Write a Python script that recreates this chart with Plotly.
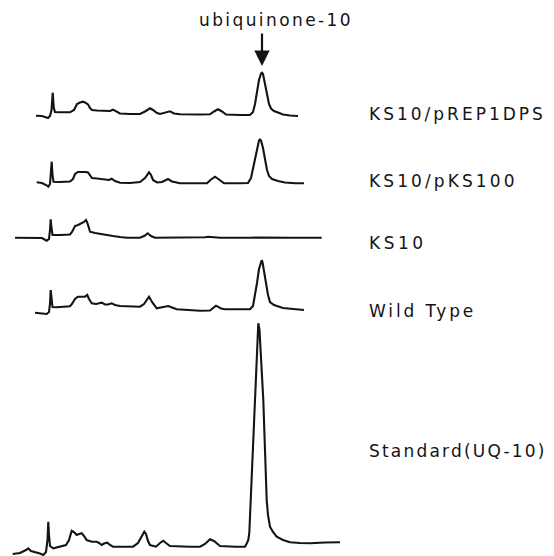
import plotly.graph_objects as go

# Chromatogram traces (time axis in arbitrary units,
# response = height above each trace's own baseline, arbitrary units)
names = ["KS10/pREP1DPS", "KS10/pKS100", "KS10", "Wild Type", "Standard(UQ-10)"]

# vertical offset of each trace baseline
offsets = [441.0, 373.0, 318.3, 247.0, 10.0]

t1 = [36, 42, 48, 50, 51.5, 52.7, 53.8, 55, 60, 70, 74, 77, 80, 83, 85, 88, 90, 92, 97, 103, 110, 113,
      116, 120, 130, 140, 145, 150, 153, 157, 160, 165, 170, 174, 180, 200, 210, 214, 218, 222, 226,
      240, 250, 253, 255, 257, 259, 261, 262, 263, 265, 267, 269, 271, 274, 278, 283, 290, 298]
r1 = [-0.7, -1, -3, -1, 5, 22.3, 7, 3, 2.7, 2.7, 5, 11, 12.5, 13.3, 12.5, 10.5, 7, 5, 4.5, 4, 4, 5.3,
      3.5, 1.5, 1, 1, 3.5, 6.7, 5, 2, 1, 2, 3.7, 1.5, 0.7, 0.5, 0.7, 3.5, 5.7, 3.5, 0.5,
      0, 0, 3, 11, 23, 35, 41.5, 42.3, 41, 31, 19, 11, 6.5, 4, 2.5, 0.5, -0.5, -1]

t2 = [36.7, 42, 47, 48.3, 50, 51, 51.7, 52.5, 53.5, 60, 70, 73, 75, 78, 82, 86, 88, 90, 92, 97, 105, 109,
      111.7, 115, 120, 130, 140, 145, 149, 151, 153, 157, 162, 168, 172, 180, 200, 207, 211, 215, 219,
      224, 240, 248, 251, 253, 255, 257, 259, 260, 261, 263, 265, 267, 269, 272, 278, 285, 295, 304]
r2 = [0.7, 0, -2.5, -3.7, -1, 11, 21.3, 8, 1.3, 1, 1.5, 4, 9, 11, 11.3, 11, 10.5, 7, 5, 4.5, 3.5, 3,
      4.3, 2, 0.3, 0, 1, 5, 10.7, 8, 3, 0.5, 1, 4, 1.5, -0.3, -0.3, -0.3, 3.5, 6.3, 3.5,
      -0.3, -0.3, 0, 5, 15, 25, 36, 42.5, 43.5, 42.5, 35, 23, 13, 7, 4, 2, 0.5, -0.3, -0.3]

t3 = [15, 30, 42, 46.7, 49, 50, 50.7, 51.5, 52.5, 60, 70, 72, 75, 78, 82, 84, 86, 87, 89, 90, 95, 100,
      110, 113, 120, 127, 140, 145, 147.7, 151, 155, 200, 205, 208, 212, 220, 250, 260, 290, 321.7]
r3 = [0, 0, -0.3, -3, -1.3, 7.7, 18.4, 9.7, 2.7, 2.7, 3.2, 5.7, 11.7, 12.7, 14.4, 15.7, 17.7, 15.7, 9.7,
      6, 4.7, 3.7, 2.2, 1.7, 0.7, 0, 0, 2.2, 4.4, 1.7, 0, 0, 0.5, 1, 0.5, 0, 0, 0.2, 0, 0]

t4 = [35, 42, 46.7, 49, 50, 50.7, 51.5, 52.5, 56.7, 65, 70, 72, 75, 78, 82, 85, 87.3, 89, 91.7, 96, 101.7,
      105, 108, 111.7, 115, 120, 140, 144, 149, 152, 156.7, 163, 168.3, 172, 176.7, 200, 210, 216, 221,
      225, 250, 253, 255, 257, 259, 261, 261.7, 262.5, 264, 266, 268, 270, 274, 283, 295, 304]
r4 = [-3.7, -4.5, -5, -3, 5, 19, 8, 2, 1.7, 2, 2.7, 5, 10, 12.3, 12.3, 12.3, 14, 10, 5.7, 5, 6.3,
      4.5, 4.5, 5.7, 4, 3, 2.3, 5, 12.3, 7, 0.7, 2, 3, 1.5, -0.3, -1.7, -1.5, 3.3, 0.5,
      -0.3, -0.3, 3, 13, 26, 40, 48, 48.7, 47, 37, 24, 14, 7, 4, 1, -0.5, -1]

t5 = [12.7, 20, 26, 28.3, 31, 36, 40, 43.3, 46, 47.5, 48.3, 49, 50, 53.3, 60, 66, 69, 71.7, 74, 76.7, 79,
      81.7, 84, 86.7, 91.7, 96.7, 99, 101.7, 104, 107.3, 110, 113, 125, 133, 138, 141, 144.3, 146, 148,
      150, 156, 160, 163.3, 166, 170, 190, 200, 205, 210, 214, 220, 235, 245, 247, 248.3, 249.3, 250.7,
      252, 253.3, 255, 256, 257, 258.3, 259.5, 261, 262, 263.3, 265, 266.7, 268, 270, 273, 276.7, 283,
      290, 300, 310, 325, 340]
r5 = [-8, -7, -4, -2.3, -5, -6, -7.5, -9, -6, 6, 24.3, 11, 0, -2.3, -0.7, 1, 6, 15.3, 14, 11, 12,
      12.7, 10, 6, 4.3, 4.3, 3, 1, 2.5, 3.3, 1, -0.7, -0.7, -0.7, 3, 8, 14.3, 12, 5,
      1, -0.7, 3, 5.3, 3, 0, -0.7, -0.7, 2, 6.7, 5, 0, -0.7, -0.7, 3, 6, 13, 46,
      80, 112.7, 156, 179.3, 206, 222.7, 216, 186, 161, 146, 96, 46, 31, 19.3, 14, 9.3, 6,
      3.7, 3, 2.7, 3.5, 3.7]

times = [t1, t2, t3, t4, t5]
responses = [r1, r2, r3, r4, r5]

# label anchor heights (same vertical units as traces)
label_y = [442.0, 375.0, 313.5, 245.0, 105.0]
label_spacing = [3.0, 3.1, 3.5, 2.9, 2.2]
label_x = 367
uq_time = 262
title_text = "ubiquinone-10"
title_spacing = 2.4

W, H = 554, 556
ink = "#141414"
font = dict(family="DejaVu Sans", size=17, color=ink)

fig = go.Figure()
for t, r, off, nm in zip(times, responses, offsets, names):
    fig.add_trace(go.Scatter(
        x=t, y=[v + off for v in r], mode="lines", name=nm,
        line=dict(color=ink, width=2.1), showlegend=False, hoverinfo="skip"))

for nm, ly in zip(names, label_y):
    fig.add_annotation(x=label_x, y=ly, text=nm, showarrow=False,
                       xanchor="left", yanchor="middle", font=font)

fig.add_annotation(x=197, y=H - 20, text=title_text, showarrow=False,
                   xanchor="left", yanchor="middle", font=font)
# arrow pointing down at the ubiquinone-10 peak
fig.add_annotation(x=uq_time, y=H - 66, ax=0, ay=-34, text="", showarrow=True,
                   arrowhead=2, arrowsize=1.4, arrowwidth=2.2, arrowcolor=ink,
                   xref="x", yref="y")

fig.update_layout(
    width=W, height=H, margin=dict(l=0, r=0, t=0, b=0),
    paper_bgcolor="white", plot_bgcolor="white",
    xaxis=dict(range=[0, W], visible=False, fixedrange=True),
    yaxis=dict(range=[0, H], visible=False, fixedrange=True),
)

spacings = label_spacing + [title_spacing]
post = (
    "document.body.style.margin='0';"
    "var sp=%s;" % str(spacings) +
    "var ts=document.querySelectorAll('text.annotation-text');"
    "for(var i=0;i<ts.length&&i<sp.length;i++){"
    "var b0=ts[i].getBBox().x;"
    "ts[i].style.letterSpacing=sp[i]+'px';"
    "var b1=ts[i].getBBox().x;"
    "ts[i].setAttribute('transform','translate('+(b0-b1)+',0)');}"
)
fig.write_html("out.html", post_script=post, config={"displayModeBar": False, "staticPlot": True})
